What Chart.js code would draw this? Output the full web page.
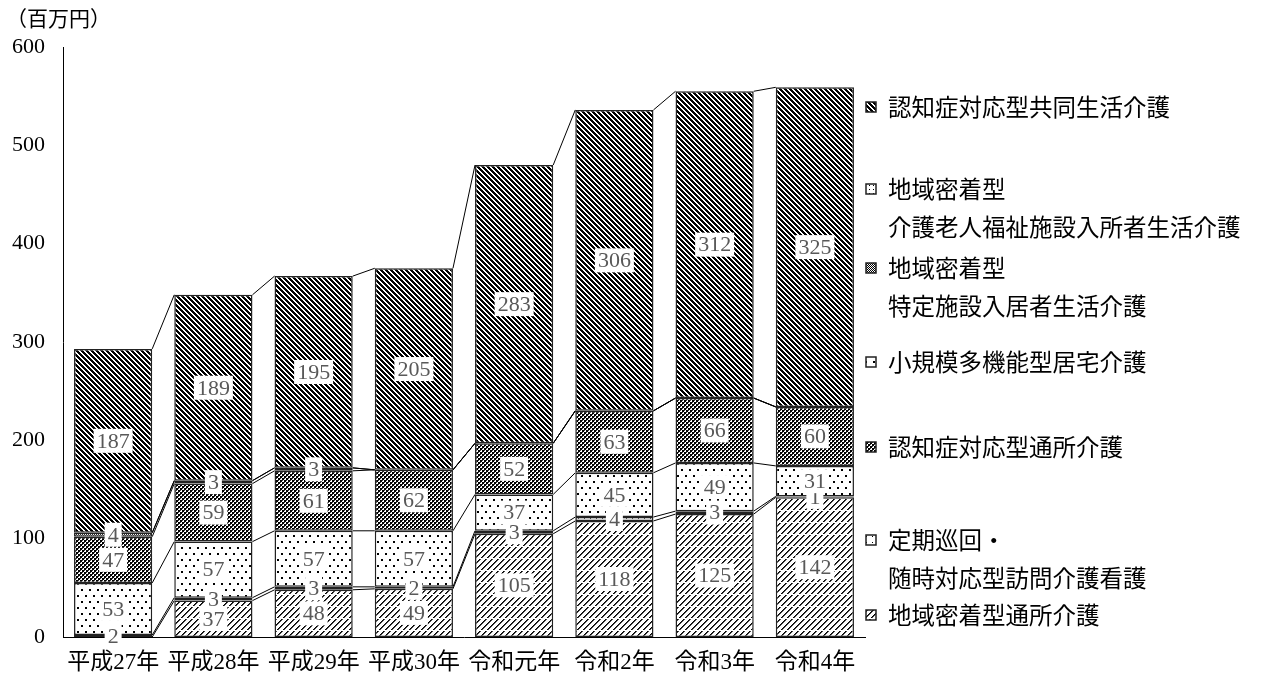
<!DOCTYPE html>
<html lang="ja">
<head>
<meta charset="utf-8">
<title>地域密着型サービス給付費の推移</title>
<script src="https://cdn.jsdelivr.net/npm/chart.js@4.4.1/dist/chart.umd.min.js"></script>
<style>
  html, body { margin: 0; padding: 0; background: #fff; }
  #wrap { position: relative; width: 1262px; height: 680px; }
</style>
</head>
<body>
<div id="wrap"><canvas id="kaigoChart" width="1262" height="680"></canvas></div>
<script>
// 年度
const categories = ['平成27年', '平成28年', '平成29年', '平成30年', '令和元年', '令和2年', '令和3年', '令和4年'];

// 給付費（百万円） 積み上げ順：下から上
const tsushoChiiki   = [0, 37, 48, 49, 105, 118, 125, 142];   // 地域密着型通所介護
const teikiJunkai    = [2, 3, 3, 2, 3, 4, 3, 1];               // 定期巡回・随時対応型訪問介護看護
const shokibo        = [53, 57, 57, 57, 37, 45, 49, 31];       // 小規模多機能型居宅介護
const ninchiTsusho   = [47, 59, 61, 62, 52, 63, 66, 60];       // 認知症対応型通所介護
const tokuteiShisetsu = [4, 3, 3, 0, 0, 0, 0, 0];              // 地域密着型特定施設入居者生活介護
const rojinFukushi   = [0, 0, 0, 0, 0, 0, 0, 0];               // 地域密着型介護老人福祉施設入所者生活介護
const kyodoSeikatsu  = [187, 189, 195, 205, 283, 306, 312, 325]; // 認知症対応型共同生活介護

const seriesNames = [
  ['地域密着型通所介護'],
  ['定期巡回・', '随時対応型訪問介護看護'],
  ['小規模多機能型居宅介護'],
  ['認知症対応型通所介護'],
  ['地域密着型', '特定施設入居者生活介護'],
  ['地域密着型', '介護老人福祉施設入所者生活介護'],
  ['認知症対応型共同生活介護']
];
const seriesValues = [tsushoChiiki, teikiJunkai, shokibo, ninchiTsusho, tokuteiShisetsu, rojinFukushi, kyodoSeikatsu];

const yTicks = [0, 100, 200, 300, 400, 500, 600];
const unitLabel = '（百万円）';

// legend order top -> bottom, with y of first line
const legendOrder = [6, 5, 4, 2, 3, 1, 0];
const legendY = [107, 189, 268, 362, 447, 540, 615];

const SERIF = '"Liberation Serif", "Noto Sans CJK JP", serif';
const JP = '"Noto Sans CJK JP", sans-serif';

// pixel tile patterns (monochrome hatching like the original)
function makePattern(w, h, shade) {
  const c = document.createElement('canvas');
  c.width = w; c.height = h;
  const g = c.getContext('2d');
  const img = g.createImageData(w, h);
  for (let y = 0; y < h; y++) {
    for (let x = 0; x < w; x++) {
      const v = shade(x, y);
      const k = (y * w + x) * 4;
      img.data[k] = img.data[k + 1] = img.data[k + 2] = v;
      img.data[k + 3] = 255;
    }
  }
  g.putImageData(img, 0, 0);
  return g.createPattern(c, 'repeat');
}

const patterns = [
  // 地域密着型通所介護 : "/" hatching, slightly broken
  makePattern(6, 12, (x, y) => { const m = (x + y) % 6; if (y === 6 && m < 2) return 255; return m === 0 ? 0 : (m === 1 ? 70 : 255); }),
  // 定期巡回 : sparse small dots
  makePattern(6, 6, (x, y) => (x === 2 && y === 2) ? 0 : 255),
  // 小規模多機能 : dots
  makePattern(8, 12, (x, y) => ((x === 1 || x === 2) && (y === 1 || y === 2)) || ((x === 5 || x === 6) && (y === 7 || y === 8)) ? 0 : 255),
  // 認知症対応型通所介護 : checker
  makePattern(4, 4, (x, y) => (((x >> 1) + (y >> 1)) % 2 === 0) ? 0 : (x % 2 === 0 && y % 2 === 0 ? 60 : 255)),
  // 特定施設 : fine checker
  makePattern(2, 2, (x, y) => ((x + y) % 2 === 0) ? 0 : 255),
  // 介護老人福祉施設 : dot grid
  makePattern(4, 4, (x, y) => (x === 1 && y === 1) ? 0 : 255),
  // 認知症対応型共同生活介護 : heavy "\" hatching
  makePattern(5, 5, (x, y) => { const m = ((x - y) % 5 + 5) % 5; return m < 3 ? 0 : 255; })
];

const seriesLines = {
  id: 'seriesLines',
  afterDatasetsDraw(chart) {
    const ctx = chart.ctx;
    ctx.save();
    ctx.strokeStyle = '#000';
    ctx.lineWidth = 1;
    chart.data.datasets.forEach((ds, i) => {
      const els = chart.getDatasetMeta(i).data;
      for (let j = 0; j < els.length - 1; j++) {
        const a = els[j], b = els[j + 1];
        ctx.beginPath();
        ctx.moveTo(a.x + a.width / 2, a.y);
        ctx.lineTo(b.x - b.width / 2, b.y);
        ctx.stroke();
      }
    });

    // value labels with white boxes
    ctx.font = '22px ' + SERIF;
    ctx.textAlign = 'center';
    ctx.textBaseline = 'middle';
    chart.data.datasets.forEach((ds, i) => {
      chart.getDatasetMeta(i).data.forEach((el, j) => {
        const v = ds.data[j];
        if (!v) return;
        const cy = (el.y + el.base) / 2;
        const txt = String(v);
        const w = ctx.measureText(txt).width + 6;
        ctx.fillStyle = '#fff';
        ctx.fillRect(el.x - w / 2, cy - 12, w, 24);
        ctx.fillStyle = '#595959';
        ctx.fillText(txt, el.x, cy + 1);
      });
    });
    ctx.restore();
  },
  afterDraw(chart) {
    const ctx = chart.ctx;
    ctx.save();
    // unit
    ctx.fillStyle = '#000';
    ctx.font = '21px ' + JP;
    ctx.textAlign = 'left';
    ctx.textBaseline = 'middle';
    ctx.fillText(unitLabel, 6, 18);

    // legend
    ctx.font = '23.5px ' + JP;
    legendOrder.forEach((idx, k) => {
      const y0 = legendY[k];
      ctx.fillStyle = patterns[idx];
      ctx.fillRect(866, y0 - 5, 10, 10);
      ctx.strokeStyle = '#222';
      ctx.lineWidth = 1.5;
      ctx.strokeRect(866, y0 - 5, 10, 10);
      ctx.fillStyle = '#000';
      seriesNames[idx].forEach((line, n) => {
        ctx.fillText(line, 888, y0 + n * 38);
      });
    });
    ctx.restore();
  }
};

const datasets = seriesValues.map((vals, i) => ({
  label: seriesNames[i].join(''),
  data: vals,
  backgroundColor: patterns[i],
  borderColor: '#222',
  borderWidth: 1.5,
  borderSkipped: false,
  stack: 'total',
  barPercentage: 0.78,
  categoryPercentage: 1.0
}));

new Chart(document.getElementById('kaigoChart'), {
  type: 'bar',
  data: { labels: categories, datasets: datasets },
  options: {
    responsive: false,
    animation: false,
    layout: { padding: { left: 0, right: 397, top: 47, bottom: 0 } },
    plugins: {
      legend: { display: false },
      tooltip: { enabled: false }
    },
    scales: {
      x: {
        stacked: true,
        grid: { display: false, drawTicks: false },
        border: { display: true, color: '#000', width: 1 },
        ticks: { color: '#000', font: { family: SERIF, size: 23 }, padding: 12, autoSkip: false, maxRotation: 0 },
        afterFit(scale) { scale.height = 43; }
      },
      y: {
        stacked: true,
        min: 0,
        max: 600,
        afterBuildTicks(scale) { scale.ticks = yTicks.map(v => ({ value: v })); },
        grid: { display: false, drawTicks: false },
        border: { display: true, color: '#000', width: 1 },
        ticks: { color: '#000', font: { family: SERIF, size: 22 }, padding: 18 },
        afterFit(scale) { scale.width = 63; }
      }
    }
  },
  plugins: [seriesLines]
});
</script>
</body>
</html>
